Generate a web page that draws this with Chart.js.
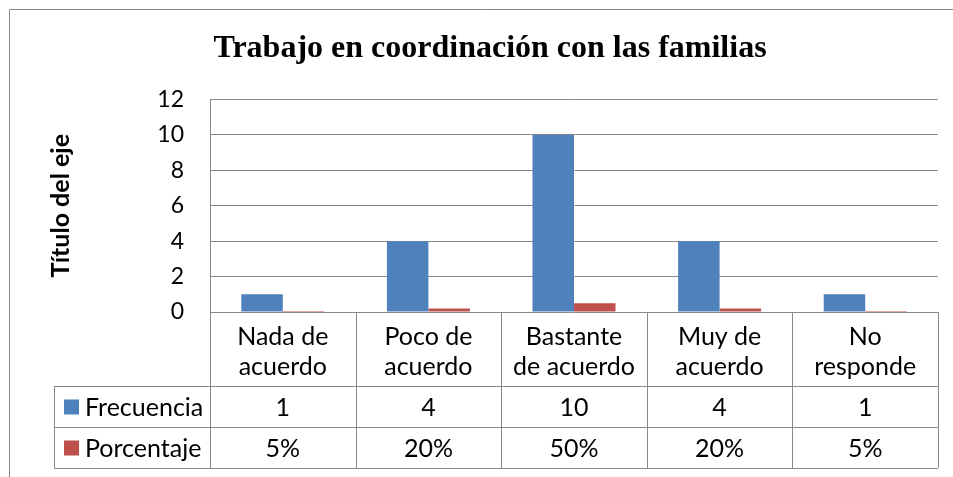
<!DOCTYPE html>
<html>
<head>
<meta charset="utf-8">
<script src="https://cdn.jsdelivr.net/npm/chart.js@4.4.0/dist/chart.umd.min.js"></script>
<style>
  body { margin: 0; background: #fff; }
</style>
</head>
<body>
<canvas id="grafico" width="953" height="477"></canvas>
<script>
// datos del gráfico
const categorias = [['Nada de', 'acuerdo'], ['Poco de', 'acuerdo'], ['Bastante', 'de acuerdo'], ['Muy de', 'acuerdo'], ['No', 'responde']];
const frecuencia = [1, 4, 10, 4, 1];
const porcentaje = [0.05, 0.2, 0.5, 0.2, 0.05];
const ejeMin = 0, ejeMax = 12, ejePaso = 2;

const GRIS = '#898989';
const LETRA = 'Lato, Calibri, sans-serif';

// tabla de datos bajo el eje (al estilo de Excel)
const tablaDatos = {
  id: 'tablaDatos',
  afterDraw(chart) {
    const ctx = chart.ctx;
    const x = chart.scales.x;
    const area = chart.chartArea;
    const n = chart.data.labels.length;
    const ancho = (area.right - area.left) / n;
    const y0 = area.bottom;
    const y1 = y0 + 74, y2 = y1 + 41, y3 = y2 + 41;
    const xLeyenda = 54;

    ctx.save();
    ctx.strokeStyle = GRIS;
    ctx.lineWidth = 1;
    ctx.beginPath();
    // marco exterior del gráfico
    ctx.moveTo(9.5, 480); ctx.lineTo(9.5, 9.5); ctx.lineTo(960, 9.5);
    // líneas horizontales
    [y1, y2, y3].forEach(y => {
      ctx.moveTo(xLeyenda, Math.round(y) + 0.5);
      ctx.lineTo(area.right, Math.round(y) + 0.5);
    });
    // líneas verticales
    for (let i = 0; i <= n; i++) {
      const xx = Math.round(area.left + i * ancho) + 0.5;
      ctx.moveTo(xx, y0); ctx.lineTo(xx, y3);
    }
    ctx.moveTo(xLeyenda + 0.5, y1); ctx.lineTo(xLeyenda + 0.5, y3);
    ctx.stroke();

    // filas de la tabla
    ctx.font = '25px ' + LETRA;
    ctx.fillStyle = '#000';
    ctx.textBaseline = 'middle';
    const filas = [
      { y: (y1 + y2) / 2, ds: chart.data.datasets[0], txt: v => String(v) },
      { y: (y2 + y3) / 2, ds: chart.data.datasets[1], txt: v => Math.round(v * 100) + '%' }
    ];
    filas.forEach(f => {
      ctx.fillStyle = f.ds.backgroundColor;
      ctx.fillRect(xLeyenda + 10, f.y - 7, 15, 15);
      ctx.fillStyle = '#000';
      ctx.textAlign = 'left';
      ctx.fillText(f.ds.label, xLeyenda + 31, f.y + 1);
      ctx.textAlign = 'center';
      f.ds.data.forEach((v, i) => {
        ctx.fillText(f.txt(v), x.getPixelForValue(i), f.y + 1);
      });
    });
    ctx.restore();
  }
};

new Chart(document.getElementById('grafico'), {
  type: 'bar',
  data: {
    labels: categorias,
    datasets: [
      { label: 'Frecuencia', data: frecuencia, backgroundColor: '#4F81BD' },
      { label: 'Porcentaje', data: porcentaje, backgroundColor: '#C0504D' }
    ]
  },
  options: {
    responsive: false,
    animation: false,
    devicePixelRatio: 1,
    categoryPercentage: 0.57,
    barPercentage: 1,
    layout: { padding: { left: 42, right: 15, top: 0, bottom: 0 } },
    plugins: {
      legend: { display: false },
      tooltip: { enabled: false },
      title: {
        display: true,
        text: 'Trabajo en coordinación con las familias',
        color: '#000',
        font: { family: '"Liberation Serif", "Times New Roman", serif', size: 32, weight: 'bold' },
        padding: { top: 30, bottom: 31 }
      }
    },
    scales: {
      x: {
        grid: { display: false },
        border: { display: false },
        ticks: {
          color: '#000',
          font: { family: LETRA, size: 25, lineHeight: 1.2 },
          maxRotation: 0,
          autoSkip: false,
          padding: 2
        },
        afterFit(scale) { scale.height = 165; }
      },
      y: {
        min: ejeMin,
        max: ejeMax,
        ticks: {
          stepSize: ejePaso,
          color: '#000',
          font: { family: LETRA, size: 23 },
          padding: 26
        },
        grid: { color: GRIS, drawTicks: false },
        border: { display: true, color: GRIS },
        title: {
          display: true,
          text: 'Título del eje',
          color: '#000',
          font: { family: LETRA, size: 25, weight: 'bold' },
          padding: { top: 4 }
        },
        afterFit(scale) { scale.width = 168; }
      }
    }
  },
  plugins: [tablaDatos]
});
</script>
</body>
</html>
